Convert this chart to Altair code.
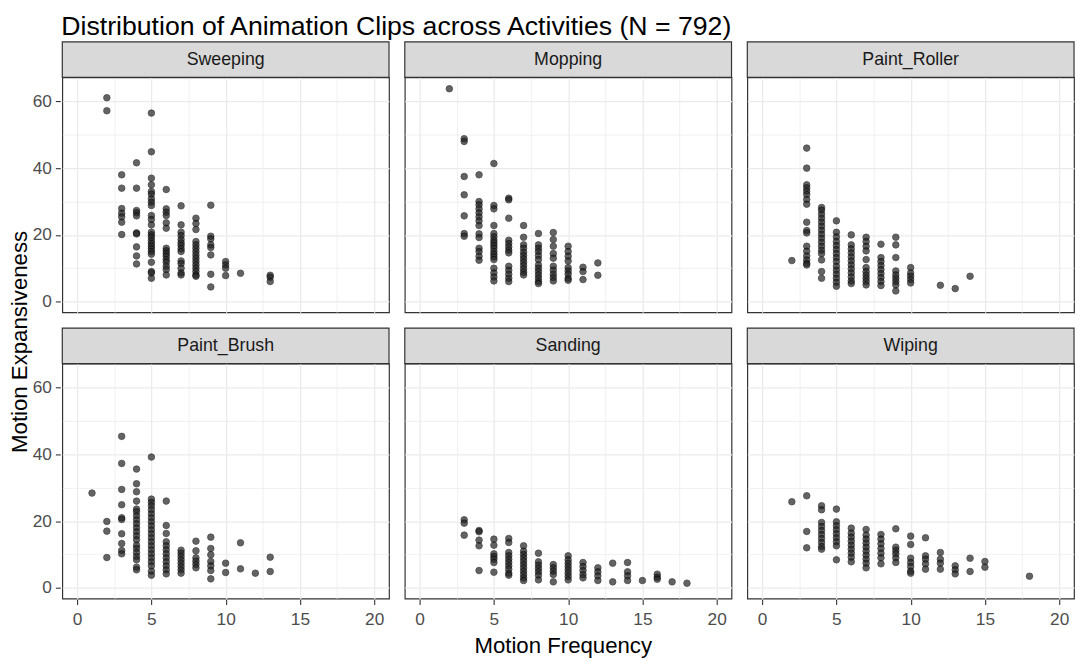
import altair as alt
import pandas as pd

activities = ["Sweeping", "Mopping", "Paint_Roller", "Paint_Brush", "Sanding", "Wiping"]

# motion frequency -> list of motion expansiveness values
sweeping = {
    2: [61.1, 57.2],
    3: [38.0, 34.0, 27.9, 26.5, 25.4, 23.8, 20.1],
    4: [41.6, 34.0, 27.3, 26.6, 25.7, 20.6, 20.3, 16.4, 13.7, 11.3],
    5: [56.5, 44.9, 37.0, 35.0, 33.0, 32.2, 30.8, 29.8, 28.8, 25.8, 24.6, 23.0, 20.8, 20.0,
        19.2, 18.2, 17.4, 16.6, 15.8, 15.0, 14.2, 11.8, 9.0, 8.6, 7.0],
    6: [33.6, 27.8, 26.8, 25.8, 23.6, 22.0, 16.0, 15.2, 14.4, 13.6, 12.6, 11.8, 10.6, 9.6, 8.0],
    7: [28.7, 23.0, 20.8, 19.8, 18.6, 17.6, 16.8, 15.8, 15.0, 12.2, 11.4, 10.0, 8.6, 8.0],
    8: [25.0, 23.4, 21.6, 18.0, 17.0, 16.0, 15.0, 14.0, 13.0, 12.0, 11.0, 10.0, 9.0, 8.0, 7.6],
    9: [28.9, 19.6, 18.8, 17.0, 16.2, 14.0, 8.2, 4.4],
    10: [12.0, 11.0, 10.0, 7.8],
    11: [8.5],
    13: [7.9, 7.3, 6.0],
}
mopping = {
    2: [63.8],
    3: [48.8, 48.0, 37.5, 32.0, 25.7, 20.4, 19.6],
    4: [38.0, 30.0, 29.0, 27.8, 26.6, 25.4, 24.2, 22.8, 20.3, 19.2, 16.0, 15.0, 13.6, 12.4],
    5: [41.4, 28.8, 27.8, 22.8, 20.4, 19.4, 18.4, 17.6, 16.8, 16.0, 15.0, 14.2, 13.4, 12.6,
        10.0, 8.6, 7.4, 6.2],
    6: [31.0, 30.5, 25.0, 18.4, 17.4, 16.4, 15.4, 14.6, 10.6, 9.4, 8.2, 7.0, 6.0],
    7: [22.8, 19.3, 17.0, 16.0, 14.8, 13.8, 12.8, 11.8, 10.8, 9.8, 8.8, 8.0],
    8: [20.4, 17.0, 16.0, 15.0, 13.8, 12.6, 11.0, 10.0, 9.0, 8.0, 7.0, 6.0, 5.4],
    9: [20.7, 18.6, 16.6, 14.4, 13.0, 10.6, 9.4, 8.2, 7.2, 6.2],
    10: [16.6, 15.0, 13.6, 12.2, 10.2, 9.2, 8.2, 7.0, 6.4],
    11: [10.3, 9.0, 6.6],
    12: [11.6, 7.9],
}
paint_roller = {
    2: [12.3],
    3: [46.0, 40.0, 35.0, 34.1, 33.1, 32.1, 30.6, 29.2, 23.8, 21.3, 20.6, 16.6, 15.1, 13.7,
        12.5, 11.5, 11.0],
    4: [28.2, 27.4, 26.2, 25.0, 23.8, 22.6, 21.4, 20.2, 19.0, 17.8, 16.6, 15.4, 14.4, 12.5,
        9.0, 7.0],
    5: [24.2, 20.8, 19.4, 18.0, 16.8, 15.6, 14.4, 13.2, 12.0, 10.6, 9.4, 8.2, 7.0, 5.8, 4.6],
    6: [20.0, 17.0, 15.8, 14.6, 13.4, 12.2, 11.0, 9.8, 8.6, 7.4, 6.2, 5.4],
    7: [19.3, 18.0, 16.6, 15.2, 12.6, 10.2, 9.0, 8.0, 7.0, 6.0, 5.0],
    8: [17.2, 13.2, 12.0, 10.8, 9.6, 8.4, 7.2, 6.0, 4.8],
    9: [19.3, 17.0, 13.2, 9.2, 8.0, 7.0, 6.0, 5.0, 3.2],
    10: [10.2, 8.6, 7.6, 6.6, 5.6],
    12: [4.9],
    13: [3.9],
    14: [7.6],
}
paint_brush = {
    1: [28.4],
    2: [19.9, 17.0, 9.1],
    3: [45.4, 37.3, 29.5, 24.9, 21.0, 20.5, 16.2, 13.3, 11.2, 10.2],
    4: [35.6, 31.2, 28.8, 26.0, 23.6, 22.8, 21.6, 20.4, 19.2, 18.0, 16.8, 15.6, 14.4, 12.8,
        11.8, 10.6, 9.4, 8.4, 6.2, 5.4],
    5: [39.2, 26.6, 25.6, 24.6, 23.4, 22.2, 21.0, 19.8, 18.6, 17.4, 16.2, 15.0, 13.8, 12.6,
        11.4, 10.2, 9.0, 7.8, 6.6, 5.0, 3.8],
    6: [26.0, 18.7, 16.3, 13.8, 12.6, 11.4, 10.2, 9.0, 7.8, 6.6, 5.4, 4.2],
    7: [11.3, 10.4, 9.4, 8.4, 7.4, 6.4, 5.4, 4.4],
    8: [14.0, 11.1, 9.0, 8.0, 7.0, 6.0],
    9: [15.2, 11.8, 9.9, 7.9, 6.6, 5.2, 2.7],
    10: [7.4, 4.6],
    11: [13.5, 5.7],
    12: [4.4],
    13: [9.2, 4.9],
}
sanding = {
    3: [20.4, 19.4, 15.8],
    4: [17.2, 16.8, 14.3, 12.6, 5.2],
    5: [14.6, 12.8, 10.2, 9.4, 8.6, 7.6, 4.7],
    6: [14.8, 13.6, 10.6, 9.6, 8.6, 7.6, 6.6, 5.6, 4.4, 3.8],
    7: [12.6, 11.0, 10.0, 9.0, 8.0, 7.0, 6.0, 5.0, 4.0, 3.0, 2.2],
    8: [10.4, 7.8, 6.8, 5.8, 4.8, 3.8, 2.4],
    9: [7.0, 6.0, 5.0, 4.0, 1.8],
    10: [9.6, 8.4, 7.4, 6.4, 5.4, 4.4, 3.4, 2.4],
    11: [7.6, 6.4, 5.2, 4.0, 3.0],
    12: [6.0, 4.8, 3.6, 2.2],
    13: [7.4, 1.8],
    14: [7.6, 4.8, 3.6, 2.2],
    15: [2.2],
    16: [4.1, 3.2, 2.6],
    17: [1.8],
    18: [1.4],
}
wiping = {
    2: [25.8],
    3: [27.6, 16.9, 12.0],
    4: [24.6, 23.4, 19.6, 18.4, 17.2, 16.0, 14.8, 13.6, 12.4, 11.6],
    5: [23.6, 19.8, 18.6, 17.4, 16.2, 15.0, 13.8, 12.6, 8.4],
    6: [17.9, 16.4, 15.2, 14.0, 12.8, 11.6, 10.4, 9.2, 7.8],
    7: [17.5, 15.8, 14.6, 13.4, 12.2, 11.0, 9.8, 8.6, 7.4, 6.0],
    8: [16.0, 14.6, 13.2, 11.8, 10.4, 9.0, 7.2],
    9: [17.7, 12.2, 11.2, 10.2, 9.0, 7.6],
    10: [15.5, 13.0, 8.9, 7.6, 6.4, 5.0, 4.4],
    11: [15.0, 9.6, 8.6, 7.2, 5.6],
    12: [10.6, 8.6, 7.4, 5.6],
    13: [6.6, 5.4, 4.2],
    14: [8.9, 4.9],
    15: [7.9, 6.2],
    18: [3.5],
}

x_ticks = [0, 2.5, 5, 7.5, 10, 12.5, 15, 17.5, 20]
y_ticks = [0, 10, 20, 30, 40, 50, 60]

rows = []
for name, d in zip(activities, [sweeping, mopping, paint_roller, paint_brush, sanding, wiping]):
    for f, ys in d.items():
        for v in ys:
            rows.append({"activity": name, "freq": f, "exp": v})
df = pd.DataFrame(rows)

FONT = "Liberation Sans"
PW, PH, SH = 331, 238, 36

mx = "datum.value % 5 === 0"
my = "datum.value % 20 === 0"

def make_axis(major, values, pad):
    return alt.Axis(
        values=values,
        labelExpr=f"{major} ? datum.label : ''",
        title=None,
        grid=True,
        gridColor="#EBEBEB",
        gridWidth={"condition": {"test": major, "value": 1.3}, "value": 0.7},
        tickOpacity={"condition": {"test": major, "value": 1}, "value": 0},
        tickColor="#333333",
        tickSize=5,
        tickWidth=1.1,
        labelPadding=pad,
        labelFontSize=17.5,
        labelColor="#4D4D4D",
        labelFont=FONT,
        labelOverlap=False,
        domain=False,
    )

pts = alt.Chart().mark_circle(
    size=44, fill="#222222", stroke="#000000", strokeWidth=0.8, opacity=0.7
).encode(
    x=alt.X("freq:Q", scale=alt.Scale(domain=[-1, 21], nice=False, zero=False),
            axis=make_axis(mx, x_ticks, 6)),
    y=alt.Y("exp:Q", scale=alt.Scale(domain=[-3.2, 67.2], nice=False, zero=False),
            axis=make_axis(my, y_ticks, 4)),
)

strip = alt.Chart().transform_aggregate(
    n="count()", groupby=["activity"]
).mark_rect(fill="#D9D9D9", stroke="#333333", strokeWidth=1.2).encode(
    x=alt.value(0), x2=alt.value(PW), y=alt.value(-SH), y2=alt.value(0)
)

strip_text = alt.Chart().transform_aggregate(
    n="count()", groupby=["activity"]
).mark_text(fontSize=18, font=FONT, color="#1A1A1A", align="center", baseline="middle").encode(
    text="activity:N", x=alt.value(PW / 2), y=alt.value(-SH / 2)
)

facet = alt.layer(pts, strip, strip_text, data=df).properties(
    width=PW, height=PH
).facet(
    facet=alt.Facet("activity:N", sort=activities, title=None,
                    header=alt.Header(labels=False, labelExpr="''", labelFontSize=0,
                                      labelColor="transparent", labelPadding=0,
                                      titlePadding=0)),
    columns=3,
    spacing={"row": 13, "column": 12},
)

ytitle = alt.Chart(pd.DataFrame({"t": ["Motion Expansiveness"]})).mark_text(
    angle=270, fontSize=22.5, font=FONT, color="#000000", align="center", baseline="middle"
).encode(
    text="t:N", x=alt.value(12), y=alt.value(268)
).properties(width=24, height=520, view=alt.ViewBackground(strokeOpacity=0))

xtitle = alt.Chart(pd.DataFrame({"t": ["Motion Frequency"]})).mark_text(
    fontSize=22.5, font=FONT, color="#000000", align="center", baseline="middle"
).encode(
    text="t:N", x=alt.value(562.5), y=alt.value(18)
).properties(width=1000, height=28, view=alt.ViewBackground(strokeOpacity=0))

chart = alt.vconcat(
    alt.hconcat(ytitle, facet, spacing=0),
    xtitle,
    spacing=0,
).properties(
    title=alt.TitleParams(
        "Distribution of Animation Clips across Activities (N = 792)",
        anchor="start", fontSize=27, font=FONT, fontWeight="normal", color="#000000",
        dx=54, offset=0,
    ),
    padding=0,
    background="white",
).configure_view(
    stroke="#333333", strokeWidth=1.2
)

chart.save("out.html", embed_options={"renderer": "svg", "actions": False})
